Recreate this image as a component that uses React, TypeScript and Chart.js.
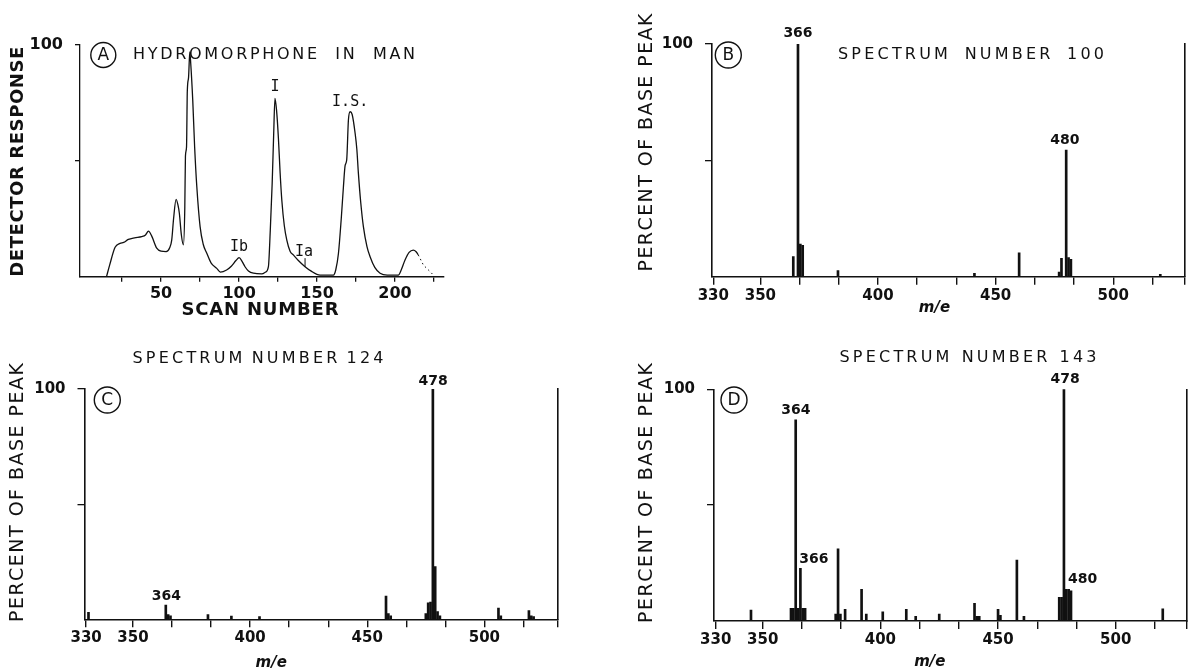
import React, { useEffect, useRef } from 'react';
import { Chart, registerables } from 'chart.js';

Chart.register(...registerables);

const INK = '#111';
const SANS = 'DejaVu Sans';
const MONO = 'DejaVu Sans Mono';

// ---------- Panel A: chromatogram ----------
const scanNumber = [
  15, 17, 20.5, 23.7, 26, 29, 33, 37.6, 40, 41.9, 44, 47.2, 50, 53.2, 55.5, 56.8, 58, 59.6, 60.8, 61.7,
  63, 64.3, 65.2, 65.6, 66.3, 66.8, 67.6, 68.4, 69, 70.3, 71.5, 72.9, 75, 77, 79.3, 82, 85.7, 88, 92, 95,
  98, 100, 102, 103.8, 106, 109.2, 114.5, 117, 118.8, 120, 121.2, 122.2, 123, 124, 125.2, 126.3, 127.4,
  129, 130.6, 132.7, 134.8, 138, 142.3, 146, 151.9, 160.5, 162, 163.7, 165.5, 166.9, 168, 169, 170.1,
  171.2, 172.5, 174.4, 175.5, 176.5, 178, 179.7, 182, 184, 187, 190.4, 195, 202.1, 204, 206.4, 209,
  211.7, 213.5, 214.9,
];
const detectorResponse = [
  0, 5, 12.7, 14.4, 14.8, 16.1, 16.8, 17.3, 18, 19.7, 17.5, 12.3, 11, 10.8, 12.5, 15.8, 25, 33.4, 31, 27.4,
  18, 13.7, 30, 52, 56, 80, 86, 97, 92, 76, 56, 38.8, 21.6, 14, 10.1, 6, 3.6, 2, 2.9, 4.5,
  7, 8.2, 6.5, 4.3, 2.5, 1.5, 1.2, 2, 4.3, 20, 40, 62, 77, 72, 60, 45, 33,
  22, 15.8, 11, 9.4, 7, 4.3, 2.5, 0.7, 0.7, 3, 10, 25, 38.8, 48, 50.4, 67.6,
  71.2, 70, 61.9, 55, 44.6, 32, 21.6, 13, 8.6, 4, 1.5, 0.7, 0.7, 3, 7.2, 10.5,
  11.5, 10.8, 9.4,
];
const tailScan = [214.9, 218.2, 222, 225.6];
const tailResponse = [9.4, 5, 2.5, 0];
const scanTicks = [25, 50, 75, 100, 125, 150, 175, 200, 225];
const scanTickLabels = ['', '50', '', '100', '', '150', '', '200', ''];
const responseTicks = [50, 100];
const responseTickLabels = ['', '100'];

// ---------- Mass spectra ----------
const mzB = [364, 366, 367, 368, 383, 441, 460, 477, 478, 480, 481, 482, 520];
const pctB = [8.6, 100, 14, 13.5, 2.6, 1.5, 10.3, 2, 7.9, 54.4, 8.2, 7.5, 1];

const mzC = [331, 364, 365, 366, 382, 392, 404, 458, 459, 460, 475, 476, 477, 478, 479, 480, 481, 506, 507, 519, 520, 521];
const pctC = [3, 6.2, 2, 1.5, 2, 1.4, 1.2, 10.1, 2.5, 1.5, 2.5, 7.2, 7.5, 100, 22.9, 3.3, 1.5, 4.9, 1.5, 3.8, 1.5, 1.2];

const mzD = [
  345, 362, 363, 364, 365, 366, 367, 368, 381, 382, 383, 385, 392, 394, 401, 411, 415, 425, 440, 441, 442,
  450, 451, 458, 461, 476, 477, 478, 479, 480, 481, 520,
];
const pctD = [
  4.7, 5.5, 5.5, 86.8, 5.5, 22.7, 5.5, 5.5, 3, 31.1, 3, 5, 13.7, 3, 4, 5, 2, 3, 7.6, 2, 2,
  5, 2.5, 26.3, 2, 10.2, 10.2, 100, 13.7, 13.7, 13, 5.3,
];

const mzTicks = [330, 350, 366.67, 383.33, 400, 416.67, 433.33, 450, 466.67, 483.33, 500, 516.67];
const mzTickLabels = ['330', '350', '', '', '400', '', '', '450', '', '', '500', ''];
const percentTicks = [50, 100];
const percentTickLabels = ['', '100'];

// ---------- helpers ----------
type Area = { l: number; t: number; r: number; b: number };

function drawSpaced(
  ctx: CanvasRenderingContext2D,
  text: string,
  cx: number,
  cy: number,
  width: number,
  font: string,
  rotate = false,
  letterGap: number | null = null,
) {
  ctx.save();
  ctx.font = font;
  ctx.fillStyle = INK;
  ctx.textBaseline = 'middle';
  ctx.textAlign = 'left';
  ctx.translate(cx, cy);
  if (rotate) ctx.rotate(-Math.PI / 2);
  const chars = Array.from(text);
  const widths = chars.map((c) => ctx.measureText(c).width);
  const natural = widths.reduce((a, b) => a + b, 0);
  const n = chars.length;
  let gaps: number[];
  if (letterGap === null || !text.includes(' ')) {
    const g = n > 1 ? (width - natural) / (n - 1) : 0;
    gaps = chars.map(() => g);
  } else {
    const spaces = chars.filter((c) => c === ' ').length;
    const letterPairs = n - 1 - 2 * spaces;
    const rest = width - natural - letterGap * letterPairs;
    const perSpace = rest / (2 * spaces);
    gaps = chars.map((c, i) => (c === ' ' || chars[i + 1] === ' ' ? perSpace : letterGap));
  }
  let x = -width / 2;
  chars.forEach((c, i) => {
    ctx.fillText(c, x, 0);
    x += widths[i] + gaps[i];
  });
  ctx.restore();
}

function drawCircled(ctx: CanvasRenderingContext2D, letter: string, cx: number, cy: number, r: number) {
  ctx.save();
  ctx.strokeStyle = INK;
  ctx.lineWidth = 1.4;
  ctx.beginPath();
  ctx.arc(cx, cy, r, 0, Math.PI * 2);
  ctx.stroke();
  ctx.font = `17px ${SANS}`;
  ctx.fillStyle = INK;
  ctx.textAlign = 'center';
  ctx.textBaseline = 'middle';
  ctx.fillText(letter, cx, cy + 1);
  ctx.restore();
}

function drawAt(
  ctx: CanvasRenderingContext2D,
  text: string,
  x: number,
  y: number,
  font: string,
  align: CanvasTextAlign = 'center',
) {
  ctx.save();
  ctx.font = font;
  ctx.fillStyle = INK;
  ctx.textAlign = align;
  ctx.textBaseline = 'middle';
  ctx.fillText(text, x, y);
  ctx.restore();
}

function fixed(size: number, horizontal: boolean) {
  return (s: any) => {
    if (horizontal) s.height = size;
    else s.width = size;
    s.paddingTop = 0;
    s.paddingBottom = 0;
    s.paddingLeft = 0;
    s.paddingRight = 0;
  };
}

// ---------- panel configs ----------
function chromatogramConfig(W: number, H: number, a: Area, annotate: (c: any) => void): any {
  return {
    type: 'line',
    data: {
      datasets: [
        {
          data: scanNumber.map((x, i) => ({ x, y: detectorResponse[i] })),
          borderColor: INK,
          borderWidth: 1.3,
          pointRadius: 0,
          cubicInterpolationMode: 'monotone',
        },
        {
          data: tailScan.map((x, i) => ({ x, y: tailResponse[i] })),
          borderColor: INK,
          borderWidth: 1,
          borderDash: [1.5, 3],
          pointRadius: 0,
        },
      ],
    },
    options: {
      responsive: false,
      animation: false,
      events: [],
      layout: { padding: { left: 0, top: a.t, right: W - a.r, bottom: 0 } },
      plugins: { legend: { display: false }, tooltip: { enabled: false }, title: { display: false } },
      scales: {
        x: {
          type: 'linear',
          min: -2,
          max: 231,
          afterFit: fixed(H - a.b, true),
          afterBuildTicks: (s: any) => {
            s.ticks = scanTicks.map((v) => ({ value: v }));
          },
          ticks: {
            autoSkip: false,
            maxRotation: 0,
            minRotation: 0,
            padding: 3,
            color: INK,
            font: { family: SANS, weight: 'bold', size: 16 },
            callback: (_v: any, i: number) => scanTickLabels[i],
          },
          grid: { display: true, drawOnChartArea: false, drawTicks: true, tickLength: 5, color: INK, lineWidth: 1.3 },
          border: { display: true, color: INK, width: 1.4 },
        },
        y: {
          type: 'linear',
          min: 0,
          max: 100,
          afterFit: fixed(a.l, false),
          afterBuildTicks: (s: any) => {
            s.ticks = responseTicks.map((v) => ({ value: v }));
          },
          ticks: {
            padding: 12,
            color: INK,
            font: { family: SANS, weight: 'bold', size: 16 },
            callback: (_v: any, i: number) => responseTickLabels[i],
          },
          grid: { display: true, drawOnChartArea: false, drawTicks: true, tickLength: 5, color: INK, lineWidth: 1.3 },
          border: { display: true, color: INK, width: 1.3 },
        },
      },
    },
    plugins: [{ id: 'annotA', afterDraw: annotate }],
  };
}

function spectrumConfig(
  mz: number[],
  pct: number[],
  W: number,
  H: number,
  a: Area,
  xmin: number,
  xmax: number,
  annotate: (c: any) => void,
): any {
  return {
    type: 'bar',
    data: {
      datasets: [
        {
          data: mz.map((x, i) => ({ x, y: pct[i] })),
          backgroundColor: INK,
          borderWidth: 0,
          barThickness: 2,
          yAxisID: 'y',
        },
      ],
    },
    options: {
      responsive: false,
      animation: false,
      events: [],
      layout: { padding: { left: 0, top: a.t, right: W - a.r, bottom: 0 } },
      plugins: { legend: { display: false }, tooltip: { enabled: false }, title: { display: false } },
      scales: {
        x: {
          type: 'linear',
          min: xmin,
          max: xmax,
          offset: false,
          afterFit: fixed(H - a.b, true),
          afterBuildTicks: (s: any) => {
            s.ticks = [...mzTicks, s.max].map((v) => ({ value: v }));
          },
          ticks: {
            autoSkip: false,
            maxRotation: 0,
            minRotation: 0,
            padding: 2,
            color: INK,
            font: { family: SANS, weight: 'bold', size: 15 },
            callback: (_v: any, i: number) => mzTickLabels[i] ?? '',
          },
          grid: {
            display: true,
            offset: false,
            drawOnChartArea: false,
            drawTicks: true,
            tickLength: 8,
            color: INK,
            lineWidth: 1.4,
          },
          border: { display: true, color: INK, width: 1.6 },
        },
        y: {
          type: 'linear',
          position: 'left',
          min: 0,
          max: 100,
          afterFit: fixed(a.l, false),
          afterBuildTicks: (s: any) => {
            s.ticks = percentTicks.map((v) => ({ value: v }));
          },
          ticks: {
            padding: 12,
            color: INK,
            font: { family: SANS, weight: 'bold', size: 15 },
            callback: (_v: any, i: number) => percentTickLabels[i],
          },
          grid: { display: true, drawOnChartArea: false, drawTicks: true, tickLength: 7, color: INK, lineWidth: 1.3 },
          border: { display: true, color: INK, width: 1.6 },
        },
        yR: {
          type: 'linear',
          position: 'right',
          min: 0,
          max: 100,
          afterFit: fixed(0, false),
          ticks: { display: false },
          grid: { display: false },
          border: { display: true, color: INK, width: 1.6 },
        },
      },
    },
    plugins: [{ id: 'annotSpec', afterDraw: annotate }],
  };
}

// ---------- annotations ----------
const monoFont = `15px ${MONO}`;
const peakFont = `bold 14px ${SANS}`;
const titleFont = `16px ${SANS}`;
const yTitleFont = `19px ${SANS}`;
const mFont = `italic bold 15px ${SANS}`;

function annotateA(chart: any) {
  const ctx = chart.ctx as CanvasRenderingContext2D;
  const xs = chart.scales.x;
  const ys = chart.scales.y;
  drawCircled(ctx, 'A', 103.3, 55, 12.5);
  drawSpaced(ctx, 'HYDROMORPHONE IN MAN', 274, 55, 282, titleFont, false, 2.7);
  drawSpaced(ctx, 'DETECTOR RESPONSE', 18.5, 161.7, 230, `bold 18px ${SANS}`, true);
  drawSpaced(ctx, 'SCAN NUMBER', 260, 310, 157, `bold 18px ${SANS}`);
  const peaks: [string, number, number][] = [
    ['I', 123.1, 82],
    ['Ib', 100, 12.7],
    ['Ia', 141.7, 10.8],
    ['I.S.', 171.2, 75.5],
  ];
  peaks.forEach(([t, x, y]) => drawAt(ctx, t, xs.getPixelForValue(x), ys.getPixelForValue(y), monoFont));
  ctx.save();
  ctx.strokeStyle = INK;
  ctx.lineWidth = 1;
  ctx.beginPath();
  ctx.moveTo(xs.getPixelForValue(142.3), ys.getPixelForValue(8));
  ctx.lineTo(xs.getPixelForValue(142.3), ys.getPixelForValue(4.3));
  ctx.stroke();
  ctx.restore();
}

function makeSpecAnnot(opts: {
  letter: string;
  circle: [number, number];
  title: string;
  titleBox: [number, number, number];
  yTitle: [number, number, number];
  mAt: [number, number];
  labels: [string, number, number, CanvasTextAlign][];
}) {
  return (chart: any) => {
    const ctx = chart.ctx as CanvasRenderingContext2D;
    const xs = chart.scales.x;
    const ys = chart.scales.y;
    drawCircled(ctx, opts.letter, opts.circle[0], opts.circle[1], 13);
    drawSpaced(ctx, opts.title, opts.titleBox[0], opts.titleBox[1], opts.titleBox[2], titleFont, false, 3.2);
    drawSpaced(ctx, 'PERCENT OF BASE PEAK', opts.yTitle[0], opts.yTitle[1], opts.yTitle[2], yTitleFont, true);
    drawAt(ctx, 'm/e', xs.getPixelForValue(opts.mAt[0]), opts.mAt[1], mFont);
    opts.labels.forEach(([t, x, y, al]) =>
      drawAt(ctx, t, xs.getPixelForValue(x), ys.getPixelForValue(y), peakFont, al),
    );
  };
}

const annotB = makeSpecAnnot({
  letter: 'B',
  circle: [134.3, 55],
  title: 'SPECTRUM NUMBER 100',
  titleBox: [377, 55, 266],
  yTitle: [53, 142.5, 258],
  mAt: [424, 308.3],
  labels: [
    ['366', 366, 104.6, 'center'],
    ['480', 479.4, 58.6, 'center'],
  ],
});
const annotC = makeSpecAnnot({
  letter: 'C',
  circle: [107.3, 66],
  title: 'SPECTRUM NUMBER 124',
  titleBox: [258, 25.3, 251],
  yTitle: [18.3, 158.5, 259],
  mAt: [409, 329.3],
  labels: [
    ['364', 364.2, 10.1, 'center'],
    ['478', 478.1, 103.4, 'center'],
  ],
});
const annotD = makeSpecAnnot({
  letter: 'D',
  circle: [140, 66],
  title: 'SPECTRUM NUMBER 143',
  titleBox: [374, 24.3, 257],
  yTitle: [53, 159, 260],
  mAt: [421, 327.7],
  labels: [
    ['364', 364.1, 91, 'center'],
    ['478', 478.5, 104.5, 'center'],
    ['366', 365.5, 26.8, 'left'],
    ['480', 479.7, 18, 'left'],
  ],
});

function prepare(c: HTMLCanvasElement | null): HTMLCanvasElement {
  // Create the 2D context up front as a CPU-backed canvas; Chart.js then reuses it.
  c!.getContext('2d', { willReadFrequently: true });
  return c!;
}

export default function App() {
  const refA = useRef<HTMLCanvasElement>(null);
  const refB = useRef<HTMLCanvasElement>(null);
  const refC = useRef<HTMLCanvasElement>(null);
  const refD = useRef<HTMLCanvasElement>(null);

  useEffect(() => {
    const charts = [
      new Chart(prepare(refA.current), chromatogramConfig(594, 334, { l: 80, t: 45, r: 443.4, b: 276.7 }, annotateA)),
      new Chart(
        prepare(refB.current),
        spectrumConfig(mzB, pctB, 595, 334, { l: 118, t: 44, r: 591, b: 276.7 }, 329.45, 530.5, annotB),
      ),
      new Chart(
        prepare(refC.current),
        spectrumConfig(mzC, pctC, 594, 334, { l: 84.5, t: 55, r: 557.5, b: 285.3 }, 329.3, 531.2, annotC),
      ),
      new Chart(
        prepare(refD.current),
        spectrumConfig(mzD, pctD, 595, 334, { l: 120, t: 55.3, r: 593, b: 287 }, 329.28, 530.3, annotD),
      ),
    ];
    return () => charts.forEach((c) => c.destroy());
  }, []);

  const cv = (left: number, top: number, w: number, h: number): React.CSSProperties => ({
    position: 'absolute',
    left,
    top,
    width: w,
    height: h,
  });

  return (
    <div style={{ position: 'absolute', left: 0, top: 0, width: 1189, height: 668, background: '#fff', overflow: 'hidden' }}>
      <canvas ref={refA} width={594} height={334} style={cv(0, 0, 594, 334)} />
      <canvas ref={refB} width={595} height={334} style={cv(594, 0, 595, 334)} />
      <canvas ref={refC} width={594} height={334} style={cv(0, 334, 594, 334)} />
      <canvas ref={refD} width={595} height={334} style={cv(594, 334, 595, 334)} />
    </div>
  );
}
